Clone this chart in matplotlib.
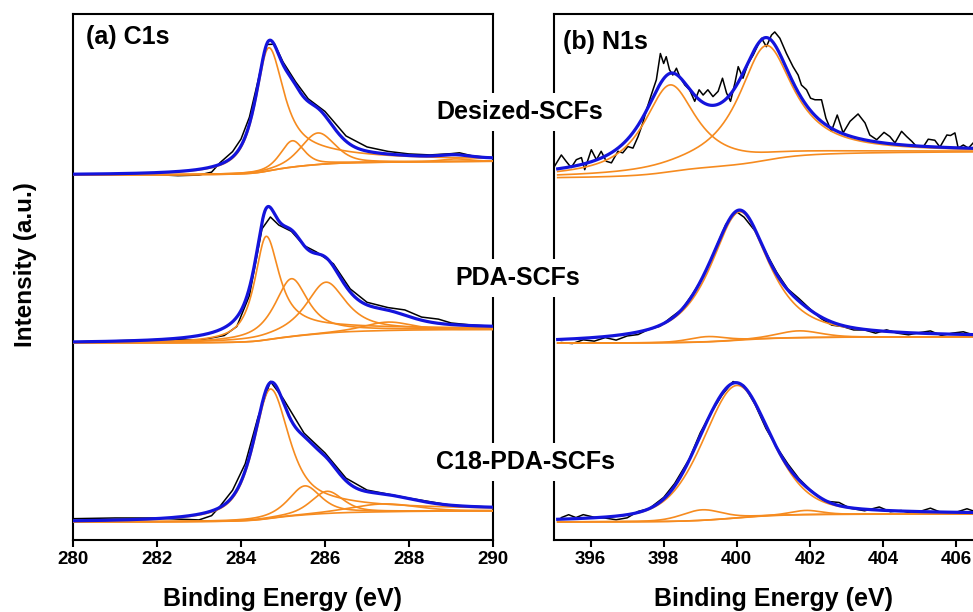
# XPS C1s / N1s high-resolution spectra with peak fitting, three fibre samples

import numpy as np
import matplotlib
matplotlib.use('Agg')
import matplotlib.pyplot as plt

plt.rcParams['font.family'] = ['Liberation Sans', 'DejaVu Sans']
plt.rcParams['font.weight'] = 'bold'

sample_names = ['Desized-SCFs', 'PDA-SCFs', 'C18-PDA-SCFs']

# fitted components: (centre eV, height, fwhm eV, lorentzian fraction, tail power on high BE side)
c1s_desized_peaks = [(284.66, 23.4, 0.74, 0.8, 0.65), (285.22, 5.0, 0.65, 0.5, 1),
                     (285.83, 6.0, 0.95, 0.4, 1), (289.1, 0.5, 0.8, 0.3, 1)]
c1s_pda_peaks = [(284.6, 19.7, 0.65, 0.85, 0.7), (285.2, 11.0, 0.95, 0.85, 1),
                 (286.02, 9.7, 1.15, 0.85, 1), (287.5, 1.6, 1.3, 0.3, 1)]
c1s_c18_peaks = [(284.7, 24.6, 0.95, 0.7, 0.7), (285.52, 5.5, 0.9, 0.6, 1),
                 (286.05, 4.2, 0.9, 0.5, 1), (287.4, 1.5, 1.8, 0.3, 1)]

n1s_desized_peaks = [(398.17, 16.5, 1.73, 0.95, 1), (400.8, 21.8, 1.81, 0.95, 1)]
n1s_pda_peaks = [(400.08, 24.4, 1.9, 0.8, 1), (399.2, 1.0, 1.2, 0.3, 1),
                 (401.7, 1.3, 1.4, 0.3, 1)]
n1s_c18_peaks = [(400.0, 25.2, 2.2, 0.4, 1), (399.05, 2.0, 1.3, 0.3, 1),
                 (401.9, 0.8, 1.0, 0.3, 1)]

# shirley background, value at low and high binding energy end
c1s_desized_bg = (69.4, 72.0)
c1s_pda_bg = (37.4, 40.0)
c1s_c18_bg = (3.4, 5.5)
n1s_desized_bg = (68.9, 73.8)
n1s_pda_bg = (37.4, 38.6)
n1s_c18_bg = (3.4, 4.9)

# measured curves, given as offset from the fitted envelope
c1s_desized_dev_e = [280, 281, 282, 282.5, 283, 283.3, 283.5, 283.8, 284.0, 284.2, 284.4,
                     284.6, 284.8, 285.0, 285.3, 285.6, 286.0, 286.5, 287.0, 287.5, 288.0,
                     288.5, 289.0, 289.2, 289.5, 290]
c1s_desized_dev = [0, 0, -0.4, -0.8, -1.1, -1.0, 0.3, 1.0, 1.3, 1.3, 0.8,
                   0.2, 0.2, 0.5, 0.6, 0.5, 0.8, 1.0, 0.8, 0.5, 0.3,
                   0.2, 0.2, 0.4, 0.1, 0]
c1s_pda_dev_e = [280, 282, 282.5, 283, 283.3, 283.6, 283.9, 284.2, 284.5, 284.7, 284.9,
                 285.2, 285.5, 285.8, 286.2, 286.6, 287.0, 287.5, 287.9, 288.3, 288.7,
                 289.0, 289.5, 290]
c1s_pda_dev = [0, 0, -0.3, -0.9, -1.0, -1.5, -1.8, -1.5, -1.2, -1.8, -0.8,
               -0.3, 0, 0.3, 0.5, 0.6, 0.5, 0.5, 1.0, 0.6, 0.8,
               0.3, 0.1, 0]
c1s_c18_dev_e = [280, 281, 282, 282.5, 283, 283.3, 283.5, 283.8, 284.1, 284.4, 284.7,
                 285, 285.5, 286, 286.5, 287, 288, 289, 290]
c1s_c18_dev = [0.4, 0.4, 0.1, -0.4, -1.1, -0.9, 0.2, 1.2, 1.3, 0.8, 0.2,
               0.6, 0.6, 0.6, 0.5, 0.3, 0.1, 0, 0]

n1s_pda_dev_e = [395.2, 395.5, 395.8, 396.1, 396.4, 396.7, 397.0, 397.3, 397.6, 397.9,
                 398.2, 398.5, 398.8, 399.1, 399.4, 399.7, 400.0, 400.2, 400.5, 400.8,
                 401.1, 401.4, 401.7, 402.0, 402.3, 402.6, 402.9, 403.2, 403.5, 403.8,
                 404.1, 404.4, 404.7, 405.0, 405.3, 405.6, 405.9, 406.2, 406.5, 406.8]
n1s_pda_dev = [-0.6, -0.9, -0.3, -0.7, -0.2, -0.9, -0.4, -0.5, 0.0, -0.2,
               0.3, 0.0, 0.2, -0.2, 0.1, 0.3, -0.2, -1.0, -0.3, 0.2,
               0.4, 0.2, 0.5, 0.2, -0.3, -0.6, -0.2, -0.4, -0.1, -0.5,
               0.3, -0.2, -0.4, 0.1, 0.5, -0.3, 0.2, 0.5, -0.1, 0.2]
n1s_c18_dev_e = [395.2, 395.4, 395.6, 395.8, 396.1, 396.4, 396.7, 397.0, 397.3, 397.6,
                 398.0, 398.3, 398.7, 399.0, 399.3, 399.6, 399.9, 400.2, 400.5, 400.8,
                 401.1, 401.4, 401.7, 402.0, 402.4, 402.8, 403.1, 403.5, 403.9, 404.2,
                 404.5, 404.8, 405.0, 405.3, 405.6, 406.0, 406.3, 406.6, 406.9]
n1s_c18_dev = [0.3, 0.8, 0.2, 0.7, 0.1, -0.2, -0.7, -0.6, 0.2, 0.0,
               0.3, 0.5, 0.2, 0.6, 0.0, -0.3, 0.3, 0.2, -0.3, -0.6,
               0.1, 0.5, 0.3, 0.1, -0.2, 0.6, -0.1, -0.3, 0.6, -0.2,
               0.1, -0.4, 0.0, 0.7, -0.1, 0.0, 0.7, 0.0, 0.2]

# desized N1s is noisy, read point by point
n1s_desized_raw_e = [395.01, 395.20, 395.33, 395.47, 395.61, 395.75, 395.84, 396.02, 396.16,
                     396.29, 396.43, 396.57, 396.75, 396.88, 397.02, 397.16, 397.30, 397.43,
                     397.53, 397.66, 397.80, 397.91, 398.00, 398.07, 398.16, 398.25, 398.35,
                     398.44, 398.58, 398.71, 398.85, 398.97, 399.08, 399.21, 399.35, 399.49,
                     399.61, 399.72, 399.83, 399.95, 400.04, 400.17, 400.31, 400.45, 400.58,
                     400.68, 400.81, 400.95, 401.04, 401.18, 401.36, 401.54, 401.68, 401.77,
                     401.91, 402.02, 402.14, 402.32, 402.44, 402.59, 402.75, 402.91, 403.10,
                     403.32, 403.51, 403.64, 403.83, 404.03, 404.19, 404.33, 404.51, 404.65,
                     404.79, 404.92, 405.10, 405.24, 405.42, 405.56, 405.75, 405.85, 405.97,
                     406.06, 406.20, 406.34, 406.47, 406.65, 406.85]
n1s_desized_raw = [71.0, 73.2, 72.0, 70.8, 72.3, 72.7, 70.4, 74.2, 72.3,
                   73.9, 72.0, 71.7, 73.9, 73.6, 74.8, 74.5, 76.7, 79.3,
                   81.8, 84.6, 87.5, 92.5, 90.6, 91.9, 89.4, 88.4, 89.7,
                   88.1, 86.5, 85.6, 83.4, 85.6, 84.6, 85.6, 84.3, 85.3,
                   87.8, 85.0, 83.4, 86.9, 90.0, 87.8, 90.6, 92.2, 94.1,
                   95.4, 93.8, 96.0, 96.6, 95.4, 92.5, 90.0, 88.4, 86.5,
                   85.6, 84.0, 83.7, 83.7, 80.2, 77.7, 80.8, 77.4, 79.6,
                   81.0, 79.3, 77.0, 76.1, 77.5, 76.7, 75.5, 77.7, 76.7,
                   75.8, 74.8, 74.7, 76.2, 76.0, 74.7, 77.0, 76.9, 77.4,
                   74.5, 75.1, 74.5, 75.5, 74.6, 75.8]

BLUE = '#1414dc'
ORANGE = '#f68b1f'


def peak_shape(x, centre, height, fwhm, eta, tail):
    """
    Gaussian-Lorentzian sum, the lorentzian part raised to `tail` on the high BE side
    """
    t = (x - centre) / fwhm
    gauss = np.exp(-4 * np.log(2) * t ** 2)
    lorentz = 1 / (1 + 4 * t ** 2)
    lorentz = np.where(x > centre, lorentz ** tail, lorentz)
    return height * (eta * lorentz + (1 - eta) * gauss)


def fit_curves(x, peaks, bg):
    """
    Returns background, list of components (on background) and envelope
    """
    comps = [peak_shape(x, *p) for p in peaks]
    total = np.sum(comps, axis=0)
    area = np.concatenate([[0], np.cumsum((total[1:] + total[:-1]) / 2 * np.diff(x))])
    background = bg[0] + (bg[1] - bg[0]) * area / area[-1]
    return background, [background + c for c in comps], background + total


def draw_spectrum(ax, x, peaks, bg, raw_e, raw_y=None, dev=None):
    background, comps, envelope = fit_curves(x, peaks, bg)
    if raw_y is None:
        raw_y = np.interp(raw_e, x, envelope) + np.array(dev)
    ax.plot(raw_e, raw_y, color='black', lw=1.1, zorder=2)
    ax.plot(x, background, color=ORANGE, lw=1.2, zorder=3)
    for c in comps:
        ax.plot(x, c, color=ORANGE, lw=1.2, zorder=3)
    ax.plot(x, envelope, color=BLUE, lw=2.3, zorder=4)


fig = plt.figure(figsize=(9.73, 6.12), dpi=100)
ax_c = fig.add_axes([0.075, 0.118, 0.4317, 0.859])
ax_n = fig.add_axes([0.5694, 0.118, 0.4507, 0.859])

x_c = np.linspace(280, 290, 800)
draw_spectrum(ax_c, x_c, c1s_desized_peaks, c1s_desized_bg, c1s_desized_dev_e, dev=c1s_desized_dev)
draw_spectrum(ax_c, x_c, c1s_pda_peaks, c1s_pda_bg, c1s_pda_dev_e, dev=c1s_pda_dev)
draw_spectrum(ax_c, x_c, c1s_c18_peaks, c1s_c18_bg, c1s_c18_dev_e, dev=c1s_c18_dev)

x_n = np.linspace(395.1, 407, 800)
draw_spectrum(ax_n, x_n, n1s_desized_peaks, n1s_desized_bg, n1s_desized_raw_e, raw_y=n1s_desized_raw)
draw_spectrum(ax_n, x_n, n1s_pda_peaks, n1s_pda_bg, n1s_pda_dev_e, dev=n1s_pda_dev)
draw_spectrum(ax_n, x_n, n1s_c18_peaks, n1s_c18_bg, n1s_c18_dev_e, dev=n1s_c18_dev)

ax_c.set_xlim(280, 290)
ax_n.set_xlim(395, 407)
ax_c.set_xticks(np.arange(280, 291, 2))
ax_n.set_xticks(np.arange(396, 407, 2))

for ax in (ax_c, ax_n):
    ax.set_ylim(0, 100)
    ax.set_yticks([])
    for s in ax.spines.values():
        s.set_linewidth(1.5)
    ax.tick_params(axis='x', direction='out', length=5, width=1.5, labelsize=13.5, pad=3)
    for lab in ax.get_xticklabels():
        lab.set_fontweight('bold')
    ax.set_xlabel('Binding Energy (eV)', fontsize=18, fontweight='bold', labelpad=14)

ax_c.text(0.031, 0.956, '(a) C1s', transform=ax_c.transAxes, fontsize=18,
          fontweight='bold', va='center', ha='left')
ax_n.text(0.0205, 0.947, '(b) N1s', transform=ax_n.transAxes, fontsize=18,
          fontweight='bold', va='center', ha='left')

fig.text(0.026, 0.567, 'Intensity (a.u.)', rotation=90, fontsize=17.5,
         fontweight='bold', ha='center', va='center')

label_pos = [(0.5344, 0.817), (0.5324, 0.546), (0.5396, 0.245)]
for name, (px, py) in zip(sample_names, label_pos):
    fig.text(px, py, name, fontsize=18, fontweight='bold', ha='center', va='center',
             zorder=10, bbox=dict(facecolor='white', edgecolor='none', pad=5))

fig.savefig('out.png', dpi=100)
